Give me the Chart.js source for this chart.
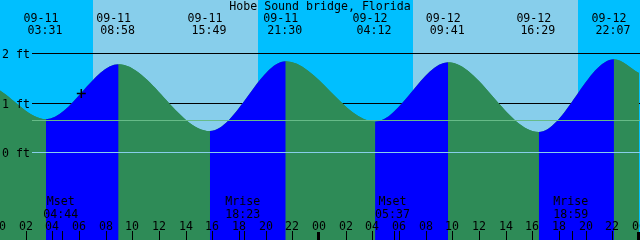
<!DOCTYPE html>
<html>
<head>
<meta charset="utf-8">
<script src="https://cdn.jsdelivr.net/npm/chart.js@4.4.1/dist/chart.umd.min.js"></script>
<style>
  html, body { margin: 0; padding: 0; background: #fff; }
  #wrap { width: 640px; height: 240px; }
</style>
</head>
<body>
<div id="wrap"><canvas id="tide" width="640" height="240"></canvas></div>
<script>
const stationName = 'Hobe Sound bridge, Florida';

// Tide level at the chart edges plus every high / low (feet)
const tideDates = ['09-11', '09-11', '09-11', '09-11', '09-11', '09-12', '09-12', '09-12', '09-12', '09-13'];
const tideTimes = ['00:00', '03:31', '08:58', '15:49', '21:30', '04:12', '09:41', '16:29', '22:07', '00:00'];
const tideFeet  = [1.26, 0.67, 1.78, 0.43, 1.84, 0.62, 1.82, 0.41, 1.88, 1.60];

// Daylight
const sunriseTimes = ['09-11 07:03', '09-12 07:03'];
const sunsetTimes  = ['09-11 19:25', '09-12 19:24'];

// Moon events
const moonNames = ['Mset', 'Mrise', 'Mset', 'Mrise'];
const moonDates = ['09-11', '09-11', '09-12', '09-12'];
const moonTimes = ['04:44', '18:23', '05:37', '18:59'];

// Height labels and reference lines (ft)
const feetLabels = [2, 1, 0];
const backLines  = [2, 1];
const datumLine  = 0;
const meanLine   = 0.65;

// Hour ticks along the bottom
const hourTicks = [0, 2, 4, 6, 8, 10, 12, 14, 16, 18, 20, 22, 24, 26, 28, 30, 32, 34, 36, 38, 40, 42, 44, 46, 48];

// "now" marker on the curve
const nowDate = '09-11';
const nowTime = '06:10';
const nowFeet = 1.19;

const NIGHT = '#00bfff';
const DAY = '#87ceeb';
const FLOOD = '#0000ff';
const EBB = '#2e8b57';
const FONT = '11.6px "DejaVu Sans Mono", monospace';

function toHour(date, time) {
  const day = parseInt(date.split('-')[1], 10) - 11;
  const [h, m] = time.split(':').map(Number);
  return day * 24 + h + m / 60;
}
function stampHour(stamp) {
  const [d, t] = stamp.split(' ');
  return toHour(d, t);
}

const tidePoints = tideDates.map((d, i) => ({ x: toHour(d, tideTimes[i]), y: tideFeet[i] }));

const decor = {
  id: 'tideDecor',
  beforeDatasetsDraw(chart) {
    const { ctx, chartArea: a, scales: { x, y } } = chart;
    ctx.save();
    // night sky, then daylight bands
    ctx.fillStyle = NIGHT;
    ctx.fillRect(a.left, a.top, a.width, a.height);
    ctx.fillStyle = DAY;
    sunriseTimes.forEach((s, i) => {
      const x0 = Math.round(x.getPixelForValue(stampHour(s)));
      const x1 = Math.round(x.getPixelForValue(stampHour(sunsetTimes[i])));
      ctx.fillRect(x0, a.top, x1 - x0, a.height);
    });
    // black level lines behind the water
    ctx.strokeStyle = '#000';
    ctx.lineWidth = 1;
    backLines.forEach(v => {
      const py = Math.round(y.getPixelForValue(v)) + 0.5;
      ctx.beginPath();
      ctx.moveTo(32, py);
      ctx.lineTo(a.right, py);
      ctx.stroke();
    });
    ctx.restore();
  },
  afterDatasetsDraw(chart) {
    const { ctx, chartArea: a, scales: { x, y } } = chart;
    ctx.save();
    ctx.lineWidth = 1;
    [[meanLine, '#66bb88'], [datumLine, '#87ceeb']].forEach(([v, c]) => {
      const py = Math.round(y.getPixelForValue(v)) + 0.5;
      ctx.strokeStyle = c;
      ctx.beginPath();
      ctx.moveTo(32, py);
      ctx.lineTo(a.right, py);
      ctx.stroke();
    });

    ctx.font = FONT;
    ctx.fillStyle = '#000';
    ctx.textBaseline = 'alphabetic';

    // title
    ctx.textAlign = 'center';
    ctx.fillText(stationName, 320, 10);

    // high / low labels
    for (let i = 1; i < tideDates.length - 1; i++) {
      const px = x.getPixelForValue(tidePoints[i].x);
      ctx.fillText(tideDates[i], px - 5, 21.5);
      ctx.fillText(tideTimes[i], px - 1, 33.5);
    }

    // feet labels
    ctx.textAlign = 'left';
    feetLabels.forEach(v => {
      ctx.fillText(v + ' ft', 2, Math.round(y.getPixelForValue(v)) + 5);
    });

    // hour ticks
    ctx.textAlign = 'center';
    hourTicks.forEach(h => {
      const px = Math.round(x.getPixelForValue(h));
      ctx.fillText(String(h % 24).padStart(2, '0'), px, 229.5);
      if (h > 0 && h % 24 === 0) ctx.fillRect(px - 2, 232, 3, 8);
      else ctx.fillRect(px, 231, 1, 9);
    });

    // moon events
    moonNames.forEach((name, i) => {
      const px = x.getPixelForValue(toHour(moonDates[i], moonTimes[i]));
      ctx.fillRect(Math.round(px), 231, 1, 9);
      ctx.fillText(name, px - 1.5, 205);
      ctx.fillText(moonTimes[i], px - 1.5, 217.5);
    });
    ctx.restore();
  }
};

new Chart(document.getElementById('tide'), {
  type: 'line',
  data: {
    datasets: [{
      label: 'now',
      data: [{ x: toHour(nowDate, nowTime), y: nowFeet }],
      showLine: false,
      pointStyle: 'cross',
      pointRadius: 4.5,
      borderColor: '#000',
      borderWidth: 1.5,
      order: 0
    }, {
      label: 'tide',
      data: tidePoints,
      fill: 'start',
      backgroundColor: EBB,
      borderColor: 'transparent',
      borderWidth: 0,
      pointRadius: 0,
      cubicInterpolationMode: 'monotone',
      segment: {
        backgroundColor: c => c.p1.parsed.y > c.p0.parsed.y ? FLOOD : EBB
      },
      order: 1
    }, {
      // plain underlay so the segment seams don't show the sky
      label: 'underlay',
      data: tidePoints,
      fill: 'start',
      backgroundColor: EBB,
      borderColor: 'transparent',
      borderWidth: 0,
      pointRadius: 0,
      cubicInterpolationMode: 'monotone',
      order: 2
    }]
  },
  options: {
    responsive: false,
    animation: false,
    events: [],
    layout: { padding: 0, autoPadding: false },
    plugins: {
      legend: { display: false },
      tooltip: { enabled: false }
    },
    scales: {
      x: { type: 'linear', min: 0.07, max: 48.07, display: false },
      y: { min: -1.772, max: 3.077, display: false }
    }
  },
  plugins: [decor]
});
</script>
</body>
</html>
